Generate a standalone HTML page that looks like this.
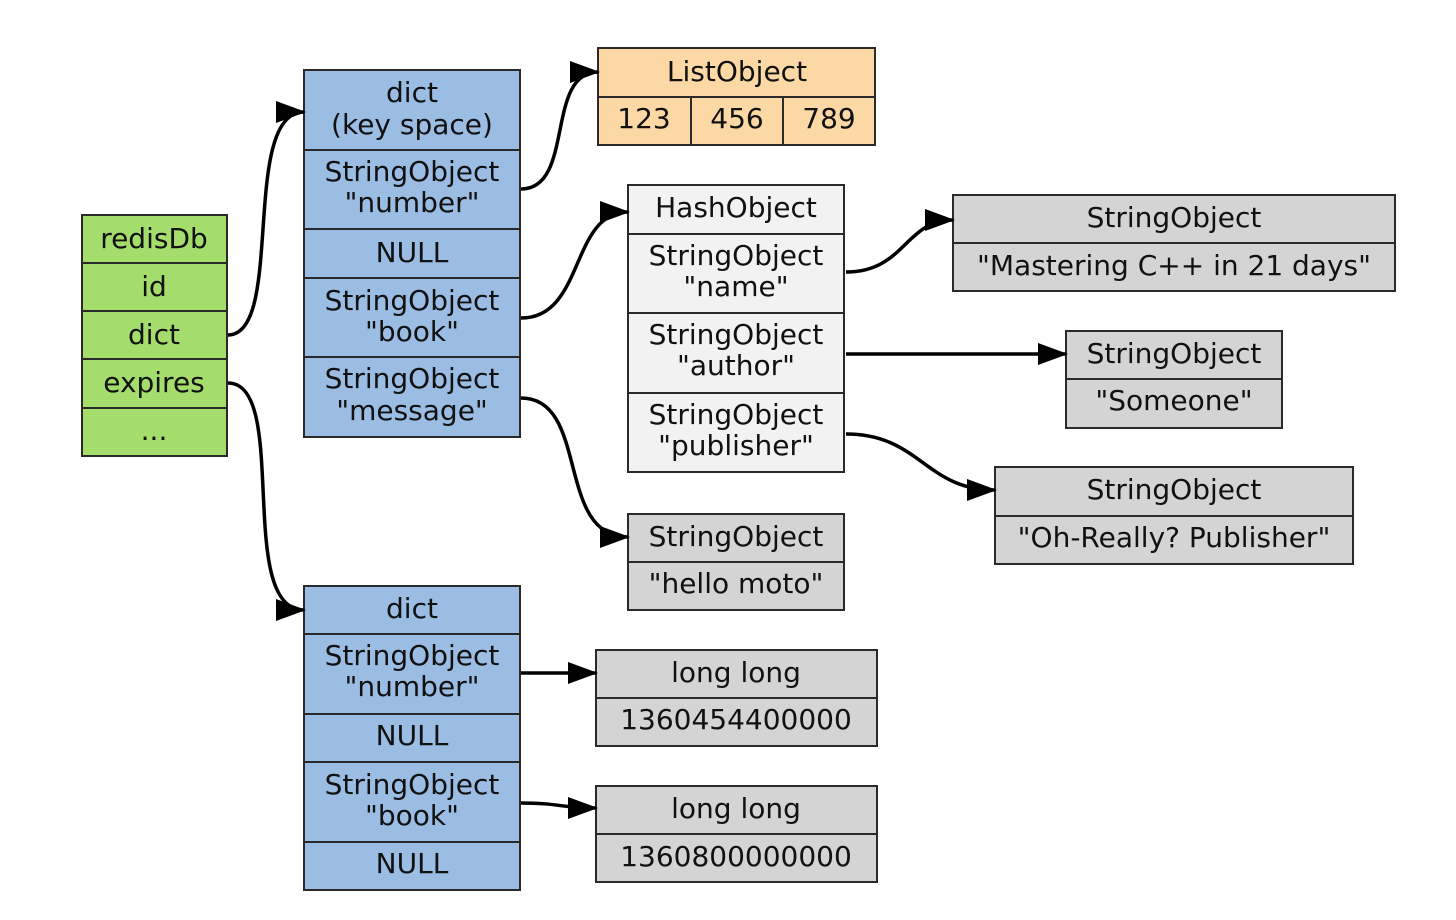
<!DOCTYPE html>
<html><head><meta charset="utf-8"><style>
html,body{margin:0;padding:0;background:#fff;}
svg{display:block;}
text{font-family:"DejaVu Sans","Liberation Sans",sans-serif;font-size:28px;fill:#111;text-anchor:middle;}
.b{stroke:#2a2a2a;stroke-width:2;}
.g{fill:#a5dd6c;}.bl{fill:#9bbde4;}.o{fill:#fcd8a5;}.gr{fill:#d4d4d4;}.h{fill:#f2f2f2;}
.c{fill:none;stroke:#000;stroke-width:3.5;}
</style></head><body>
<svg width="1456" height="920" viewBox="0 0 1456 920" xmlns="http://www.w3.org/2000/svg">
<defs><marker id="a" markerWidth="30" markerHeight="22" refX="28" refY="11" orient="auto" markerUnits="userSpaceOnUse"><path d="M0,0 L30,11 L0,22 z" fill="#000"/></marker></defs>

<g class="b">
<rect class="g" x="82" y="215" width="145" height="241"/>
<line x1="82" y1="263" x2="227" y2="263"/><line x1="82" y1="311" x2="227" y2="311"/><line x1="82" y1="359" x2="227" y2="359"/><line x1="82" y1="408" x2="227" y2="408"/>
</g>
<text x="154" y="248">redisDb</text><text x="154" y="296">id</text><text x="154" y="344">dict</text><text x="154" y="392">expires</text><text x="154" y="440">...</text>

<g class="b">
<rect class="bl" x="304" y="70" width="216" height="367"/>
<line x1="304" y1="150" x2="520" y2="150"/><line x1="304" y1="229" x2="520" y2="229"/><line x1="304" y1="278" x2="520" y2="278"/><line x1="304" y1="357" x2="520" y2="357"/>
</g>
<text x="412" y="102">dict</text><text x="412" y="134">(key space)</text>
<text x="412" y="181">StringObject</text><text x="412" y="212">"number"</text>
<text x="412" y="262">NULL</text>
<text x="412" y="310">StringObject</text><text x="412" y="341">"book"</text>
<text x="412" y="388">StringObject</text><text x="412" y="420">"message"</text>

<g class="b">
<rect class="o" x="598" y="48" width="277" height="97"/>
<line x1="598" y1="97" x2="875" y2="97"/><line x1="691" y1="97" x2="691" y2="145"/><line x1="783" y1="97" x2="783" y2="145"/>
</g>
<text x="737" y="81">ListObject</text><text x="644" y="128">123</text><text x="737" y="128">456</text><text x="829" y="128">789</text>

<g class="b">
<rect class="h" x="628" y="185" width="216" height="287"/>
<line x1="628" y1="234" x2="844" y2="234"/><line x1="628" y1="313" x2="844" y2="313"/><line x1="628" y1="393" x2="844" y2="393"/>
</g>
<text x="736" y="217">HashObject</text>
<text x="736" y="265">StringObject</text><text x="736" y="296">"name"</text>
<text x="736" y="344">StringObject</text><text x="736" y="375">"author"</text>
<text x="736" y="424">StringObject</text><text x="736" y="455">"publisher"</text>

<g class="b"><rect class="gr" x="953" y="195" width="442" height="96"/><line x1="953" y1="243" x2="1395" y2="243"/></g>
<text x="1174" y="227">StringObject</text><text x="1174" y="275">"Mastering C++ in 21 days"</text>
<g class="b"><rect class="gr" x="1066" y="331" width="216" height="97"/><line x1="1066" y1="379" x2="1282" y2="379"/></g>
<text x="1174" y="363">StringObject</text><text x="1174" y="410">"Someone"</text>
<g class="b"><rect class="gr" x="995" y="467" width="358" height="97"/><line x1="995" y1="516" x2="1353" y2="516"/></g>
<text x="1174" y="499">StringObject</text><text x="1174" y="547">"Oh-Really? Publisher"</text>
<g class="b"><rect class="gr" x="628" y="514" width="216" height="96"/><line x1="628" y1="562" x2="844" y2="562"/></g>
<text x="736" y="546">StringObject</text><text x="736" y="593">"hello moto"</text>

<g class="b">
<rect class="bl" x="304" y="586" width="216" height="304"/>
<line x1="304" y1="634" x2="520" y2="634"/><line x1="304" y1="714" x2="520" y2="714"/><line x1="304" y1="762" x2="520" y2="762"/><line x1="304" y1="842" x2="520" y2="842"/>
</g>
<text x="412" y="618">dict</text>
<text x="412" y="665">StringObject</text><text x="412" y="696">"number"</text>
<text x="412" y="745">NULL</text>
<text x="412" y="794">StringObject</text><text x="412" y="825">"book"</text>
<text x="412" y="873">NULL</text>

<g class="b"><rect class="gr" x="596" y="650" width="281" height="96"/><line x1="596" y1="698" x2="877" y2="698"/></g>
<text x="736" y="682">long long</text><text x="736" y="729">1360454400000</text>
<g class="b"><rect class="gr" x="596" y="786" width="281" height="96"/><line x1="596" y1="834" x2="877" y2="834"/></g>
<text x="736" y="818">long long</text><text x="736" y="866">1360800000000</text>

<path class="c" marker-end="url(#a)" d="M228,335 C285,335 240,112 304,112"/>
<path class="c" marker-end="url(#a)" d="M228,383 C290,383 235,610 304,610"/>
<path class="c" marker-end="url(#a)" d="M521,189 C575,189 545,72 598,72"/>
<path class="c" marker-end="url(#a)" d="M521,318 C585,318 570,212 628,212"/>
<path class="c" marker-end="url(#a)" d="M521,398 C590,398 555,537 628,537"/>
<path class="c" marker-end="url(#a)" d="M846,272 C905,272 905,220 953,220"/>
<path class="c" marker-end="url(#a)" d="M846,354 L1066,354"/>
<path class="c" marker-end="url(#a)" d="M846,434 C920,434 925,490 995,490"/>
<path class="c" marker-end="url(#a)" d="M521,673 L596,673"/>
<path class="c" marker-end="url(#a)" d="M521,803 C560,803 560,808 596,808"/>
</svg>
</body></html>
